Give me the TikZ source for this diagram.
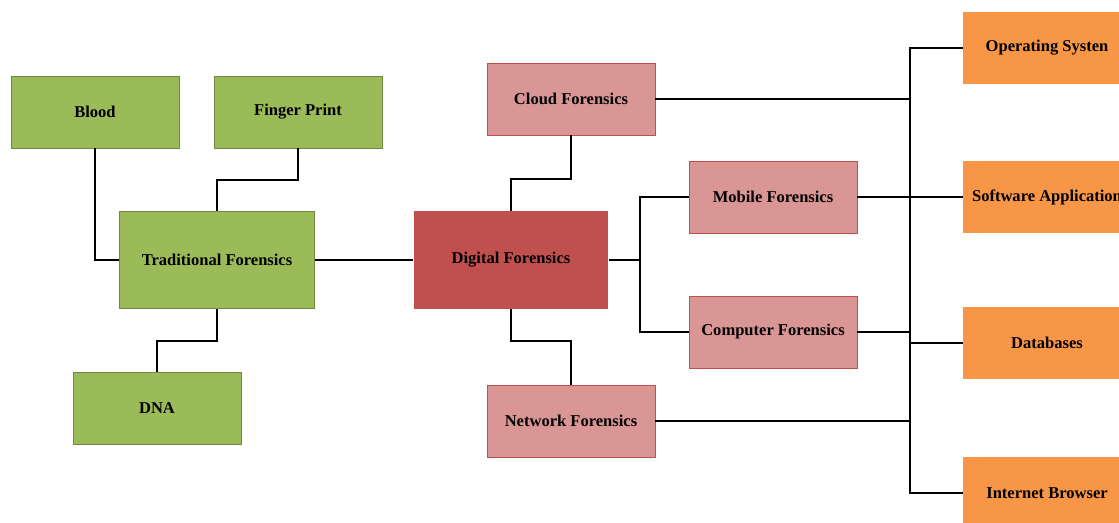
\documentclass[tikz,border=0pt]{standalone}
\usepackage{fontspec}
\setmainfont{Liberation Serif}
\usetikzlibrary{positioning,calc}

\definecolor{greenfill}{HTML}{9BBB59}
\definecolor{greenline}{HTML}{71893F}
\definecolor{pinkfill}{HTML}{D99694}
\definecolor{pinkline}{HTML}{C0504D}
\definecolor{redfill}{HTML}{C0504D}
\definecolor{orangefill}{HTML}{F79646}

\begin{document}
\begin{tikzpicture}[x=0.75pt,y=-0.75pt,
    every node/.style={font=\fontsize{12.4}{14}\selectfont\bfseries, inner sep=0pt},
    trad/.style={draw=greenline, fill=greenfill, minimum width=126pt, minimum height=54pt},
    tradbig/.style={trad, minimum width=146pt, minimum height=73pt},
    digi/.style={fill=redfill, minimum width=146pt, minimum height=73pt},
    sub/.style={draw=pinkline, fill=pinkfill, minimum width=126pt, minimum height=54pt},
    source/.style={fill=orangefill, minimum width=126pt, minimum height=54pt},
    link/.style={line width=1.5pt}]

\useasboundingbox (0,0) rectangle (1119,522);
\clip (0,0) rectangle (1119,522);

% Traditional side
\node[tradbig] (tf) at (217,260) {Traditional Forensics};
\node[trad] (blood) at (95,112) {Blood};
\node[trad] (fp) at (298,112) {Finger Print};
\node[trad] (dna) at (157,408) {DNA};

% Digital side
\node[digi] (df) at (511,260) {Digital Forensics};
\node[sub] (cloud) at (571,99) {Cloud Forensics};
\node[sub] (net) at (571,421) {Network Forensics};
\node[sub] (mob) at (773,197) {Mobile Forensics};
\node[sub] (comp) at (773,332) {Computer Forensics};

% Sources
\node[source] (os) at (1047,48) {Operating Systen};
\node[source] (sw) at (1047,197) {Software Application};
\node[source] (db) at (1047,343) {Databases};
\node[source] (ib) at (1047,493) {Internet Browser};

\coordinate (split) at (640,260);
\coordinate (bus) at (910,0);

    \begin{scope}[link] % Traditional links
        \draw (blood.south) |- (tf.west);
        \draw (fp.south) -- ++(0,32) -| (tf.north);
        \draw (tf.south) -- ++(0,32) -| (dna.north);
        \draw (tf.east) -- (df.west);
    \end{scope}

    \begin{scope}[link] % Digital links
        \draw (df.north) -- ++(0,-32) -| (cloud.south);
        \draw (df.south) -- ++(0,32) -| (net.north);
        \draw (df.east) -- (split);
        \draw (mob.west) -| (split |- comp.west) -- (comp.west);
    \end{scope}

    \begin{scope}[link] % Bus to sources
        \draw (os.west) -| (bus |- ib.west) -- (ib.west);
        \draw (bus |- sw.west) -- (sw.west);
        \draw (bus |- db.west) -- (db.west);
        \draw (cloud.east) -- (cloud.east -| bus);
        \draw (mob.east) -- (mob.east -| bus);
        \draw (comp.east) -- (comp.east -| bus);
        \draw (net.east) -- (net.east -| bus);
    \end{scope}

\end{tikzpicture}
\end{document}
